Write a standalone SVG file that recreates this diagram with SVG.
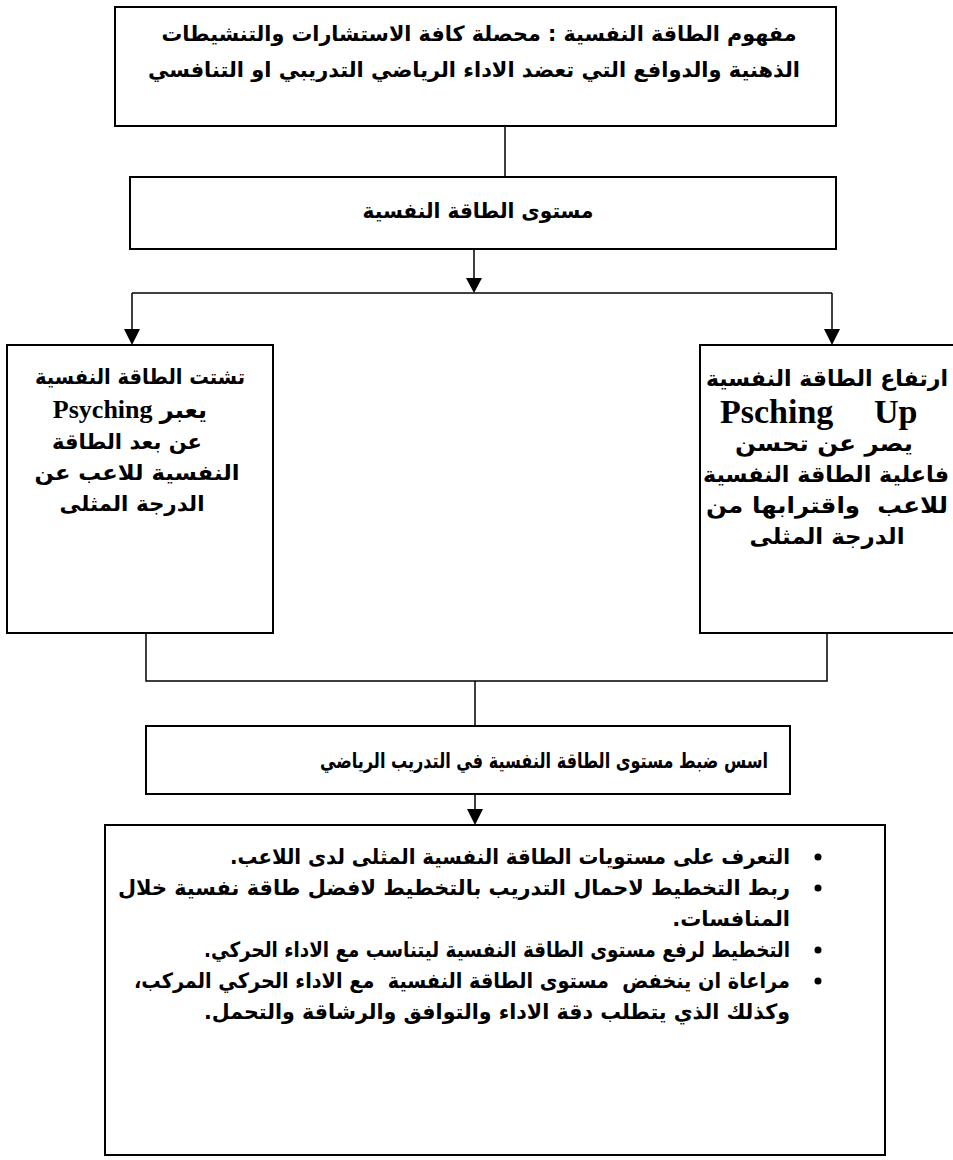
<svg xmlns="http://www.w3.org/2000/svg" width="953" height="1160" viewBox="0 0 953 1160">
<defs>
<style>
.box{fill:#fff;stroke:#000;stroke-width:2}
.ln{fill:none;stroke:#000;stroke-width:1.5}
.ar{fill:#000}
.t{font-family:"DejaVu Sans","Liberation Sans",sans-serif;font-weight:bold;font-size:21px;fill:#000}
.r{font-size:22px}
.l{font-family:"Liberation Serif","Times New Roman",serif;font-weight:bold;font-size:26px;fill:#000}
.lu{font-size:34px}
</style>
</defs>
<rect width="953" height="1160" fill="#fff"/>
<g id="connectors">
<path class="ln" d="M505 126V177"/>
<path class="ln" d="M474 249V279"/>
<polygon class="ar" points="466,278 482,278 474,293"/>
<path class="ln" d="M132 293H832"/>
<path class="ln" d="M132 293V330"/>
<polygon class="ar" points="124,329 140,329 132,345"/>
<path class="ln" d="M832 293V330"/>
<polygon class="ar" points="824,329 840,329 832,345"/>
<path class="ln" d="M146 633V681H827V633"/>
<path class="ln" d="M475 681V726"/>
<path class="ln" d="M475 794V810"/>
<polygon class="ar" points="467,809 483,809 475,825"/>
</g>
<g id="n1">
<rect class="box" x="115" y="7" width="721" height="119"/>
<text class="t" direction="rtl" text-anchor="middle" x="479" y="41" textLength="635" lengthAdjust="spacingAndGlyphs">مفهوم الطاقة النفسية : محصلة كافة الاستشارات والتنشيطات</text>
<text class="t" direction="rtl" text-anchor="middle" x="474" y="77" textLength="652" lengthAdjust="spacingAndGlyphs">الذهنية والدوافع التي تعضد الاداء الرياضي التدريبي او التنافسي</text>
</g>
<g id="n2">
<rect class="box" x="130" y="177" width="706" height="72"/>
<text class="t" direction="rtl" text-anchor="middle" x="478" y="218" textLength="231" lengthAdjust="spacingAndGlyphs">مستوى الطاقة النفسية</text>
</g>
<g id="n3">
<rect class="box" x="7" y="345" width="266" height="288"/>
<text class="t" direction="rtl" text-anchor="middle" x="140" y="384" textLength="210" lengthAdjust="spacingAndGlyphs">تشتت الطاقة النفسية</text>
<text class="t" direction="rtl" text-anchor="middle" x="130" y="418"><tspan font-size="24">يعبر</tspan> <tspan class="l">Psyching</tspan></text>
<text class="t" direction="rtl" text-anchor="middle" x="127" y="449" textLength="150" lengthAdjust="spacingAndGlyphs">عن بعد الطاقة</text>
<text class="t" direction="rtl" text-anchor="middle" x="137" y="480" textLength="205" lengthAdjust="spacingAndGlyphs">النفسية للاعب عن</text>
<text class="t" direction="rtl" text-anchor="middle" x="132" y="511" textLength="145" lengthAdjust="spacingAndGlyphs">الدرجة المثلى</text>
</g>
<g id="n4">
<rect class="box" x="700" y="345" width="260" height="288"/>
<text class="t r" direction="rtl" text-anchor="middle" x="827" y="386" textLength="242" lengthAdjust="spacingAndGlyphs">ارتفاع الطاقة النفسية</text>
<text class="l lu" y="423"><tspan x="720">Psching</tspan> <tspan x="874">Up</tspan></text>
<text class="t r" direction="rtl" text-anchor="middle" x="824" y="451" textLength="178" lengthAdjust="spacingAndGlyphs">يصر عن تحسن</text>
<text class="t r" direction="rtl" text-anchor="middle" x="826" y="482" textLength="246" lengthAdjust="spacingAndGlyphs">فاعلية الطاقة النفسية</text>
<text class="t r" direction="rtl" text-anchor="middle" x="827" y="513" textLength="242" lengthAdjust="spacingAndGlyphs" xml:space="preserve">للاعب  واقترابها من</text>
<text class="t r" direction="rtl" text-anchor="middle" x="827" y="544" textLength="155" lengthAdjust="spacingAndGlyphs">الدرجة المثلى</text>
</g>
<g id="n5">
<rect class="box" x="146" y="726" width="644" height="68"/>
<text class="t" direction="rtl" text-anchor="middle" x="544" y="768" textLength="448" lengthAdjust="spacingAndGlyphs">اسس ضبط مستوى الطاقة النفسية في التدريب الرياضي</text>
</g>
<g id="n6">
<rect class="box" x="105" y="825" width="780" height="330"/>
<circle class="ar" cx="818" cy="857" r="3.5"/>
<circle class="ar" cx="818" cy="888" r="3.5"/>
<circle class="ar" cx="818" cy="950" r="3.5"/>
<circle class="ar" cx="818" cy="981" r="3.5"/>
<text class="t" direction="rtl" text-anchor="middle" x="510" y="864" textLength="560" lengthAdjust="spacingAndGlyphs">التعرف على مستويات الطاقة النفسية المثلى لدى اللاعب.</text>
<text class="t" direction="rtl" text-anchor="middle" x="454" y="895" textLength="672" lengthAdjust="spacingAndGlyphs">ربط التخطيط لاحمال التدريب بالتخطيط لافضل طاقة نفسية خلال</text>
<text class="t" direction="rtl" text-anchor="start" x="790" y="926">المنافسات.</text>
<text class="t" direction="rtl" text-anchor="middle" x="497" y="957" textLength="586" lengthAdjust="spacingAndGlyphs">التخطيط لرفع مستوى الطاقة النفسية ليتناسب مع الاداء الحركي.</text>
<text class="t" direction="rtl" text-anchor="middle" x="462" y="988" textLength="656" lengthAdjust="spacingAndGlyphs" xml:space="preserve">مراعاة ان ينخفض  مستوى الطاقة النفسية  مع الاداء الحركي المركب،</text>
<text class="t" direction="rtl" text-anchor="middle" x="497" y="1019" textLength="586" lengthAdjust="spacingAndGlyphs">وكذلك الذي يتطلب دقة الاداء والتوافق والرشاقة والتحمل.</text>
</g>
</svg>
